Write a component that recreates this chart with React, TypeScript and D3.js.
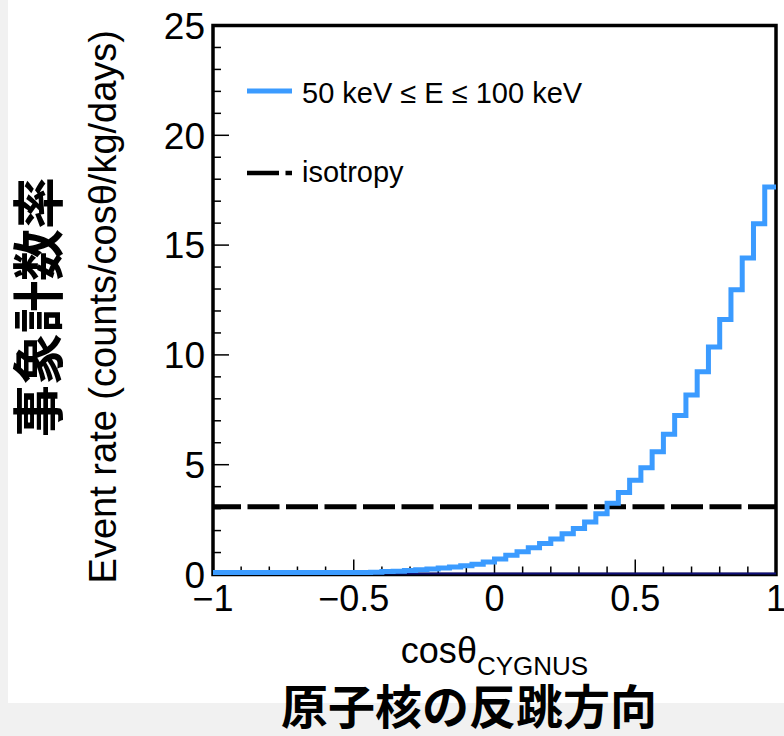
import React from 'react'
import * as d3 from 'd3'

// 50 bins on cos(theta) from -1 to 1, rate
const binEdgesFrom = -1
const binWidth = 0.04
const eventRate = [
    0, 0, 0, 0, 0, 0, 0, 0, 0, 0,
    0, 0, 0, 0, 0.01, 0.04, 0.06, 0.09, 0.12, 0.16,
    0.2, 0.25, 0.31, 0.38, 0.48, 0.62, 0.78, 0.95, 1.13, 1.32,
    1.53, 1.76, 2.0, 2.3, 2.68, 3.15, 3.64, 4.2, 4.77, 5.5,
    6.29, 7.15, 8.08, 9.14, 10.27, 11.52, 12.88, 14.32, 15.88, 17.55,
]
const isotropyRate = 3.08

const xTickLabels = ['\u22121', '\u22120.5', '0', '0.5', '1']
const yTickLabels = ['0', '5', '10', '15', '20', '25']
const legendLabels = ['50 keV \u2264 E \u2264 100 keV', 'isotropy']

const width = 784
const height = 736
const plot = {left: 213, right: 776, top: 25.5, bottom: 574.5}

const latin = '"Liberation Sans", Arial, Helvetica, sans-serif'
const cjk = '"Noto Sans CJK JP", "Noto Sans CJK SC", sans-serif'
const blue = '#3b9bff'

export default function App() {
    const x = d3.scaleLinear().domain([-1, 1]).range([plot.left, plot.right])
    const y = d3.scaleLinear().domain([0, 25]).range([plot.bottom, plot.top])

    const stepPoints: [number, number][] = []
    eventRate.forEach((v, i) => {
        const x0 = binEdgesFrom + i * binWidth
        stepPoints.push([x0, v], [x0 + binWidth, v])
    })
    const stepLine = d3.line<[number, number]>()
        .x(d => x(d[0]))
        .y(d => y(d[1]))

    const xMajor = x.ticks(4)
    const xMinor = x.ticks(20)
    const yMajor = y.ticks(5)
    const yMinor = y.ticks(25)

    return (
        <div style={{position: 'fixed', left: 0, top: 0}}>
            <svg width={width} height={height} style={{display: 'block'}}>
                <rect x={0} y={0} width={width} height={height} fill="#f1f1f1" />
                <rect x={8} y={0} width={width - 8} height={703} fill="#ffffff" />

                {/* ticks */}
                {yMinor.map(t => (
                    <line key={'ym' + t} x1={plot.left} x2={plot.left + (t % 5 === 0 ? 16 : 8)}
                        y1={y(t)} y2={y(t)} stroke="#000" strokeWidth={1.5} />
                ))}
                {xMinor.map(t => (
                    <line key={'xm' + t} x1={x(t)} x2={x(t)} y1={plot.bottom}
                        y2={plot.bottom - (Math.abs(t * 2 - Math.round(t * 2)) < 1e-6 ? 15 : 8)}
                        stroke="#000" strokeWidth={1.5} />
                ))}

                {/* isotropy */}
                <line x1={x(-1)} x2={x(1)} y1={y(isotropyRate)} y2={y(isotropyRate)}
                    stroke="#000" strokeWidth={5} strokeDasharray="32,6.5" strokeDashoffset={4} />

                {/* frame */}
                <rect x={plot.left} y={plot.top} width={plot.right - plot.left} height={plot.bottom - plot.top}
                    fill="none" stroke="#000" strokeWidth={3.5} />
                <line x1={x(-1)} x2={x(1)} y1={y(0) - 1} y2={y(0) - 1} stroke="#10107a" strokeWidth={2} />

                {/* histogram */}
                <path d={stepLine(stepPoints) ?? ''} fill="none" stroke={blue} strokeWidth={5}
                    transform="translate(0,-2)" />

                {/* tick labels */}
                {yMajor.map((t, i) => (
                    <text key={'yl' + t} x={205} y={y(t)} dy="0.36em" textAnchor="end"
                        fontFamily={latin} fontSize={37}>{yTickLabels[i]}</text>
                ))}
                {xMajor.map((t, i) => (
                    <text key={'xl' + t} x={x(t)} y={611} textAnchor="middle"
                        fontFamily={latin} fontSize={36}>{xTickLabels[i]}</text>
                ))}

                {/* axis titles */}
                <text x={x(0)} y={663} textAnchor="middle" fontFamily={latin} fontSize={36}>
                    cos{'\u03b8'}<tspan fontSize={26} dy={12}>CYGNUS</tspan>
                </text>
                <text transform="translate(116,30) rotate(-90)" textAnchor="end"
                    fontFamily={latin} fontSize={38}>
                    Event rate (counts/cos{'\u03b8'}/kg/days)
                </text>

                {/* legend */}
                <line x1={247} x2={292} y1={91} y2={91} stroke={blue} strokeWidth={5} />
                <text x={302} y={103} fontFamily={latin} fontSize={29}>{legendLabels[0]}</text>
                <line x1={247} x2={292} y1={173} y2={173} stroke="#000" strokeWidth={4.5}
                    strokeDasharray="32,6.5" />
                <text x={302} y={182} fontFamily={latin} fontSize={29}>{legendLabels[1]}</text>

                {/* Japanese labels */}
                <text transform="translate(58,307) rotate(-90)" textAnchor="middle"
                    fontFamily={cjk} fontWeight="bold" fontSize={52}>事象計数率</text>
                <text x={469} y={724} textAnchor="middle" fontFamily={cjk} fontWeight="bold"
                    fontSize={47}>原子核の反跳方向</text>
            </svg>
        </div>
    )
}
